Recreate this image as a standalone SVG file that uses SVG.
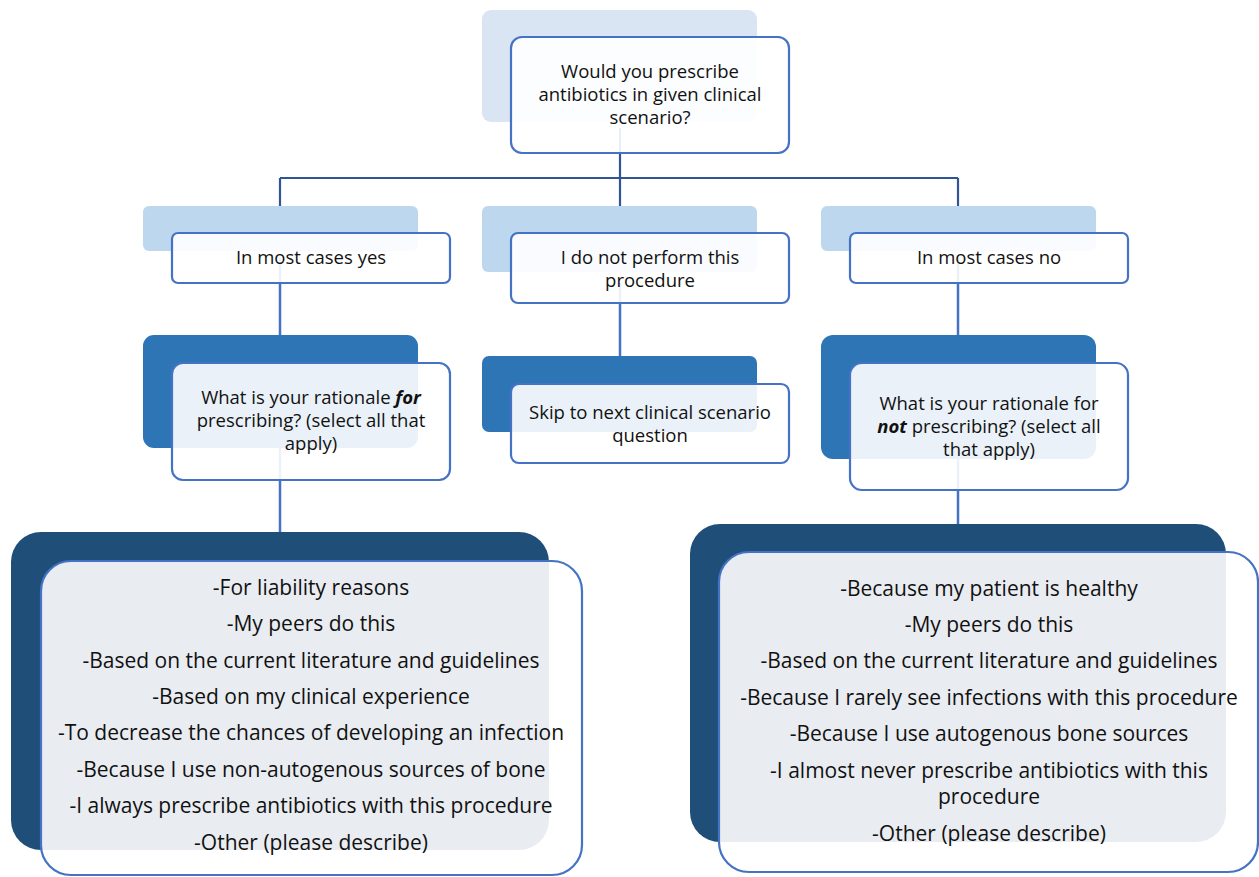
<svg xmlns="http://www.w3.org/2000/svg" width="1259" height="877" viewBox="0 0 1259 877">
<style>
.bg{fill:#ffffff}
.b1{fill:#dae5f3}
.b2{fill:#bdd7ee}
.b3{fill:#2e75b6}
.b4{fill:#1f4e79}
.fr{fill:#ffffff;fill-opacity:0.9;stroke:#4472c4;stroke-width:2.2}
.c1{stroke:#2f5597;stroke-width:2.2;fill:none}
.c2{stroke:#4472c4;stroke-width:2.5;fill:none}
text{font-family:"Open Sans","Liberation Sans",sans-serif;fill:#111111;text-anchor:middle}
.t17{font-size:18.5px}
.t20{font-size:21px}
</style>
<rect class="bg" x="0" y="0" width="1259" height="877"/>
<g id="connectors">
<path class="c1" d="M620 128 V178 M280 178 H958 M280 178 V233 M620 178 V233 M958 178 V233"/>
<path class="c2" d="M280 258 V335 M620 283 V356 M958 258 V335 M280 420 V532 M958 430 V524"/>
</g>
<g id="n-top">
<rect class="b1" x="482" y="10" width="275" height="112" rx="9"/>
<rect class="fr" x="511" y="37" width="278" height="116" rx="11"/>
<text class="t17" x="650" y="78">Would you prescribe</text>
<text class="t17" x="650" y="101">antibiotics in given clinical</text>
<text class="t17" x="650" y="124">scenario?</text>
</g>
<g id="n-yes">
<rect class="b2" x="143" y="206" width="275" height="45" rx="6"/>
<rect class="fr" x="172" y="233" width="278" height="50" rx="6"/>
<text class="t17" x="311" y="264">In most cases yes</text>
</g>
<g id="n-notperform">
<rect class="b2" x="482" y="206" width="275" height="66" rx="6"/>
<rect class="fr" x="511" y="233" width="278" height="70" rx="7"/>
<text class="t17" x="650" y="264">I do not perform this</text>
<text class="t17" x="650" y="287">procedure</text>
</g>
<g id="n-no">
<rect class="b2" x="821" y="206" width="275" height="45" rx="6"/>
<rect class="fr" x="850" y="233" width="278" height="50" rx="6"/>
<text class="t17" x="989" y="264">In most cases no</text>
</g>
<g id="n-ratfor">
<rect class="b3" x="143" y="335" width="275" height="113" rx="11"/>
<rect class="fr" x="172" y="363" width="278" height="117" rx="11"/>
<text class="t17" x="311" y="404">What is your rationale <tspan font-weight="bold" font-style="italic">for</tspan></text>
<text class="t17" x="311" y="427">prescribing? (select all that</text>
<text class="t17" x="311" y="450">apply)</text>
</g>
<g id="n-skip">
<rect class="b3" x="482" y="356" width="275" height="76" rx="7"/>
<rect class="fr" x="511" y="384" width="278" height="79" rx="8"/>
<text class="t17" x="650" y="419">Skip to next clinical scenario</text>
<text class="t17" x="650" y="442">question</text>
</g>
<g id="n-ratnot">
<rect class="b3" x="821" y="335" width="275" height="124" rx="12"/>
<rect class="fr" x="850" y="363" width="278" height="127" rx="12"/>
<text class="t17" x="989" y="410">What is your rationale for</text>
<text class="t17" x="989" y="433"><tspan font-weight="bold" font-style="italic">not</tspan> prescribing? (select all</text>
<text class="t17" x="989" y="456">that apply)</text>
</g>
<g id="n-listfor">
<rect class="b4" x="11" y="532" width="538" height="318" rx="30"/>
<rect class="fr" x="41" y="561" width="541" height="314" rx="30"/>
<text class="t20" x="311" y="595">-For liability reasons</text>
<text class="t20" x="311" y="631">-My peers do this</text>
<text class="t20" x="311" y="668">-Based on the current literature and guidelines</text>
<text class="t20" x="311" y="704">-Based on my clinical experience</text>
<text class="t20" x="311" y="740">-To decrease the chances of developing an infection</text>
<text class="t20" x="311" y="777">-Because I use non-autogenous sources of bone</text>
<text class="t20" x="311" y="813">-I always prescribe antibiotics with this procedure</text>
<text class="t20" x="311" y="850">-Other (please describe)</text>
</g>
<g id="n-listnot">
<rect class="b4" x="690" y="524" width="536" height="318" rx="30"/>
<rect class="fr" x="719" y="552" width="539" height="320" rx="30"/>
<text class="t20" x="989" y="596">-Because my patient is healthy</text>
<text class="t20" x="989" y="632">-My peers do this</text>
<text class="t20" x="989" y="668">-Based on the current literature and guidelines</text>
<text class="t20" x="989" y="705">-Because I rarely see infections with this procedure</text>
<text class="t20" x="989" y="741">-Because I use autogenous bone sources</text>
<text class="t20" x="989" y="778">-I almost never prescribe antibiotics with this</text>
<text class="t20" x="989" y="804">procedure</text>
<text class="t20" x="989" y="841">-Other (please describe)</text>
</g>
</svg>
